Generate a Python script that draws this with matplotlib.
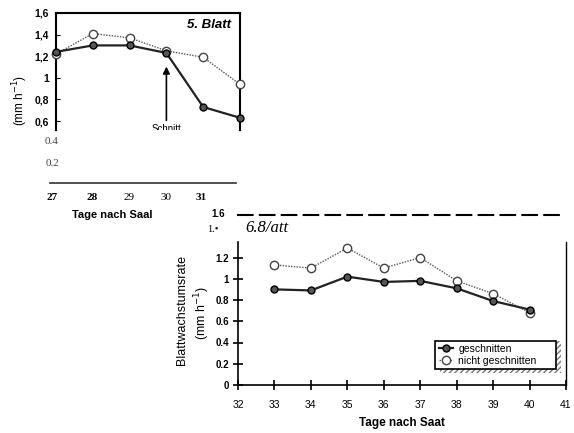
import matplotlib.pyplot as plt
from matplotlib.patches import Rectangle
from matplotlib.lines import Line2D

# Oberes Teilbild (5. Blatt)
days_top = [27, 28, 29, 30, 31, 32]
cut_top = [1.24, 1.30, 1.30, 1.23, 0.73, 0.63]
uncut_top = [1.22, 1.41, 1.37, 1.25, 1.19, 0.94]
yticks_top = [0.6, 0.8, 1.0, 1.2, 1.4, 1.6]
ylabels_top = ['0,6', '0,8', '1', '1,2', '1,4', '1,6']

# Unteres Teilbild (6. Blatt)
days_bot = [33, 34, 35, 36, 37, 38, 39, 40]
cut_bot = [0.90, 0.89, 1.02, 0.97, 0.98, 0.91, 0.79, 0.71]
uncut_bot = [1.13, 1.10, 1.29, 1.10, 1.20, 0.98, 0.86, 0.68]
xticks_bot = [32, 33, 34, 35, 36, 37, 38, 39, 40, 41]
yticks_bot = [0, 0.2, 0.4, 0.6, 0.8, 1.0, 1.2]
ylabels_bot = ['0', '0.2', '0.4', '0.6', '0.8', '1', '1.2']

W, H = 574, 433
SANS = 'Liberation Sans'
SERIF = 'Liberation Serif'


def box(l, t, r, b):
    # pixel box -> figure fraction [left, bottom, width, height]
    return [l / W, 1 - b / H, (r - l) / W, (b - t) / H]


def fx(x):
    return x / W


def fy(y):
    return 1 - y / H


fig = plt.figure(figsize=(W / 100, H / 100), dpi=100)

cut_style = dict(color='#222222', lw=1.6, marker='o', markersize=5,
                 markerfacecolor='#555555', markeredgecolor='black', zorder=4)
uncut_style = dict(color='#555555', lw=1.0, ls=(0, (1, 1)), marker='o', markersize=6,
                   markerfacecolor='white', markeredgecolor='#444444', zorder=3)

# --- top panel ---
ax1 = fig.add_axes(box(56, 13, 240, 130))
ax1.plot(days_top, uncut_top, clip_on=False, **uncut_style)
ax1.plot(days_top, cut_top, clip_on=False, **cut_style)
ax1.set_xlim(27, 32)
ax1.set_ylim(0.517, 1.6)
ax1.set_yticks(yticks_top)
ax1.set_yticklabels(ylabels_top, fontsize=7.5, fontweight='bold', family=SANS)
ax1.set_xticks([])
ax1.spines['bottom'].set_visible(False)
for s in ['left', 'top', 'right']:
    ax1.spines[s].set_linewidth(1.5)
ax1.tick_params(axis='y', direction='in', length=3, pad=5)
ax1.text(0.95, 0.9, '5. Blatt', transform=ax1.transAxes, ha='right', va='center',
         fontsize=9.5, fontweight='bold', style='italic', family=SANS)
ax1.annotate('', xy=(30, 1.13), xytext=(30, 0.58),
             arrowprops=dict(arrowstyle='-|>', color='black', lw=1.2, mutation_scale=10))
ax1.text(30, 0.53, 'Schnitt', ha='center', va='center', fontsize=7, family=SANS, clip_on=True)
fig.text(fx(20), fy(100), '(mm h$^{-1}$)', rotation=90, ha='center', va='center',
         fontsize=8.5, family=SANS)

# OCR-Reste unter dem oberen Bild
fig.text(fx(52), fy(142), '0.4', ha='center', va='center', fontsize=8, family=SERIF, color='#444444')
fig.text(fx(52), fy(163), '0.2', ha='center', va='center', fontsize=8, family=SERIF, color='#444444')
fig.add_artist(Line2D([fx(50), fx(236)], [fy(183), fy(183)], color='#333333', lw=1.2))
for lab, x, bold in [('27', 52, True), ('28', 92, True), ('29', 129, False),
                     ('30', 166, False), ('31', 201, True)]:
    fig.text(fx(x), fy(198), lab, ha='center', va='center', fontsize=8, family=SERIF,
             fontweight='bold' if bold else 'normal')
fig.text(fx(112), fy(215), 'Tage nach Saal', ha='center', va='center', fontsize=8,
         fontweight='bold', family=SANS)

# --- bottom panel ---
ax2 = fig.add_axes(box(238, 215, 566, 385))
ax2.plot(days_bot, uncut_bot, label='nicht geschnitten', **uncut_style)
ax2.plot(days_bot, cut_bot, label='geschnitten', **cut_style)
ax2.set_xlim(32, 41)
ax2.set_ylim(0, 1.6)
ax2.set_xticks(xticks_bot)
ax2.set_xticklabels([str(v) for v in xticks_bot], fontsize=7.5, family=SANS)
ax2.set_yticks(yticks_bot)
ax2.set_yticklabels(ylabels_bot, fontsize=7, fontweight='bold', family=SANS)
ax2.tick_params(direction='inout', length=7, width=1.2, pad=3)
ax2.tick_params(axis='x', pad=7)
ax2.spines['left'].set_bounds(0, 1.35)
ax2.spines['right'].set_bounds(0, 1.35)
ax2.spines['bottom'].set_linewidth(1.2)
ax2.spines['left'].set_linewidth(1.2)
ax2.spines['right'].set_linewidth(1.0)
ax2.spines['top'].set_linewidth(1.5)
ax2.spines['top'].set_linestyle((0, (7, 3.5)))
ax2.set_xlabel('Tage nach Saat', fontsize=8.5, fontweight='bold', family=SANS, labelpad=5)
fig.text(fx(182), fy(310), 'Blattwachstumsrate', rotation=90, ha='center',
         va='center', fontsize=9, family=SANS)
fig.text(fx(202), fy(313), '(mm h$^{-1}$)', rotation=90, ha='center',
         va='center', fontsize=9, family=SANS)
fig.text(fx(218), fy(214), '1.6', ha='center', va='center', fontsize=7, fontweight='bold', family=SANS)
fig.text(fx(213), fy(230), '1.•', ha='center', va='center', fontsize=7.5, family=SERIF)
fig.text(fx(245), fy(228), '6.8/att', ha='left', va='center', fontsize=12, style='italic', family=SERIF)

# legend with hatched shadow
lx0, ly0, lw_, lh_ = 0.602, 0.094, 0.368, 0.188
ax2.add_patch(Rectangle((lx0 + 0.014, ly0 - 0.025), lw_, lh_, transform=ax2.transAxes,
                        facecolor='white', edgecolor='#777777', hatch='//////', lw=0, zorder=5))
handles, labels = ax2.get_legend_handles_labels()
leg = ax2.legend(handles[::-1], labels[::-1], loc='lower left',
                 bbox_to_anchor=(lx0, ly0, lw_, lh_), mode='expand', borderaxespad=0,
                 fancybox=False, framealpha=1, edgecolor='black', handlelength=1.4,
                 handletextpad=0.5, borderpad=0.3, labelspacing=0.2,
                 prop={'family': SANS, 'size': 7.5})
leg.get_frame().set_linewidth(1.2)
leg.set_zorder(6)

fig.savefig('out.png', dpi=100)
